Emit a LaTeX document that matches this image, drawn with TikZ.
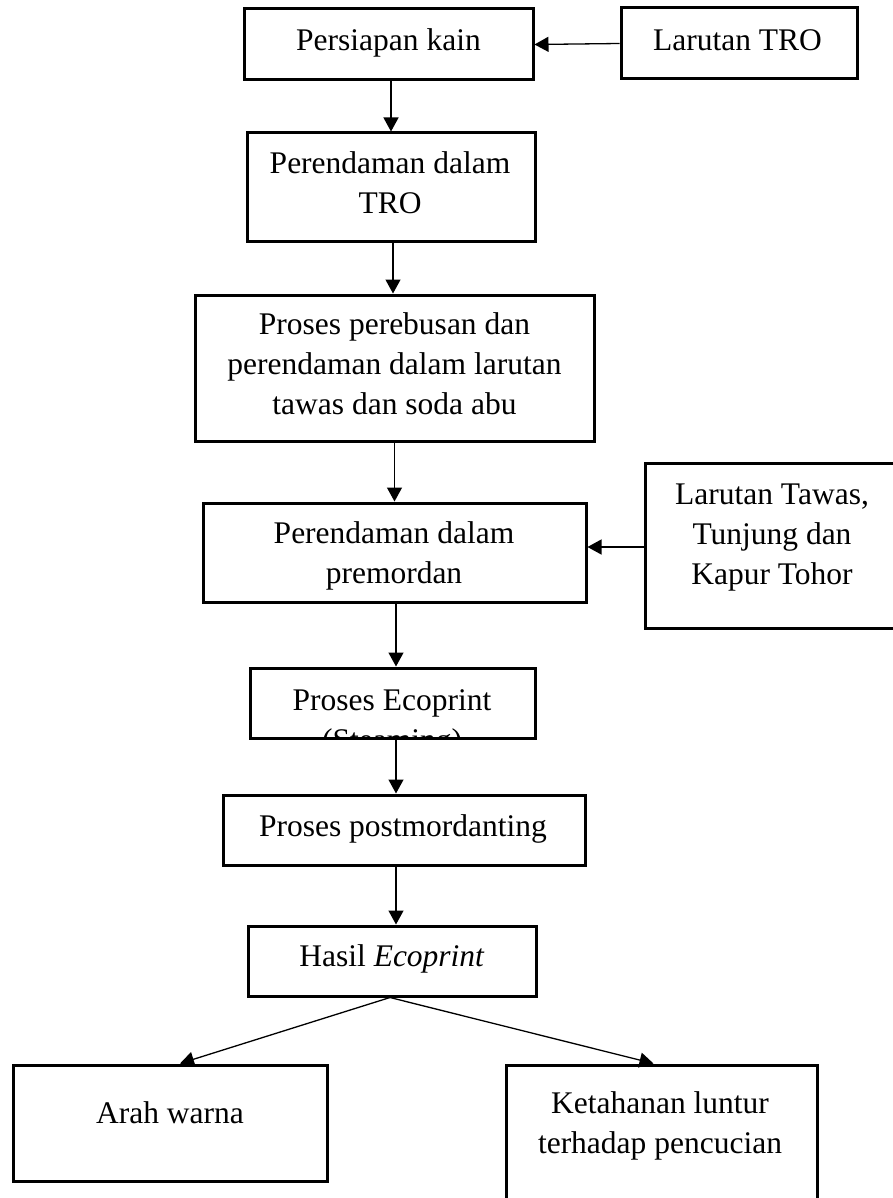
\documentclass[tikz,border=0pt]{standalone}
\usepackage{fontspec}
\setmainfont{Liberation Serif}
\usetikzlibrary{arrows.meta,calc}
\begin{document}
\begin{tikzpicture}[x=1pt,y=-1pt,
  box/.style={draw=black, line width=3pt, inner sep=0pt},
  lbl/.style={font=\fontsize{31.5}{40}\selectfont, align=center, anchor=base, inner sep=0pt},
  arr/.style={draw=black, line width=1.3pt, -{Triangle[length=14pt,width=15pt]}}]
\useasboundingbox (0,0) rectangle (893,1198);
% boxes
\node[box, minimum width=289pt, minimum height=71pt] (persiapan) at (388.5,44.5) {};
\node[lbl] (tpersiapan) at (388.5,51) {Persiapan kain};
\node[box, minimum width=236pt, minimum height=71pt] (tro) at (739,43.5) {};
\node[lbl] (ttro) at (737.5,51) {Larutan TRO};
\node[box, minimum width=288pt, minimum height=109pt] (rtro) at (391,187.5) {};
\node[lbl] (trtro) at (390,214) {Perendaman dalam\\TRO};
\node[box, minimum width=399pt, minimum height=146pt] (rebus) at (394.5,368) {};
\node[lbl] (trebus) at (394.5,414) {Proses perebusan dan\\perendaman dalam larutan\\tawas dan soda abu};
\node[box, minimum width=383pt, minimum height=99pt] (premordan) at (394.5,552.5) {};
\node[lbl] (tpremordan) at (394,583) {Perendaman dalam\\premordan};
\node[box, minimum width=270pt, minimum height=165pt] (tawas) at (780,545.5) {};
\node[lbl] (ttawas) at (772,584) {Larutan Tawas,\\Tunjung dan\\Kapur Tohor};
\node[box, minimum width=285pt, minimum height=70pt] (ecoprint) at (392.5,703) {};
\begin{scope}
  \clip ($(ecoprint.center)+(-141,-33.5)$) rectangle ($(ecoprint.center)+(141,33.5)$);
  \node[lbl] (tecoprint) at (392,750) {Proses Ecoprint\\(Steaming)};
\end{scope}
\node[box, minimum width=362pt, minimum height=70pt] (postmord) at (404,830) {};
\node[lbl] (tpostmord) at (403,836) {Proses postmordanting};
\node[box, minimum width=288pt, minimum height=70pt] (hasil) at (392,961) {};
\node[lbl] (thasil) at (392,966) {Hasil \textit{Ecoprint}};
\node[box, minimum width=314pt, minimum height=116pt] (arah) at (170,1123) {};
\node[lbl] (tarah) at (170,1123) {Arah warna};
\node[box, minimum width=311pt, minimum height=165pt] (tahan) at (661.5,1147.5) {};
\node[lbl] (ttahan) at (660,1153) {Ketahanan luntur\\terhadap pencucian};
% connectors
\draw[arr] (tro.west) -- (persiapan.east);
\draw[arr] (persiapan.south -| rtro.north) -- (rtro.north);
\draw[arr] ($(rtro.south)+(2,0)$) -- ($(rtro.south |- rebus.north)+(2,0)$);
\draw[arr] (rebus.south) -- (rebus.south |- premordan.north);
\draw[arr] ($(tawas.west)+(0,1.5)$) -- ($(tawas.west -| premordan.east)+(0,1.5)$);
\draw[arr] ($(premordan.south)+(1.5,0)$) -- ($(premordan.south |- ecoprint.north)+(1.5,0)$);
\draw[arr] ($(ecoprint.south)+(3.5,0)$) -- ($(ecoprint.south |- postmord.north)+(3.5,0)$);
\draw[arr] ($(hasil.north |- postmord.south)+(4,0)$) -- ($(hasil.north)+(4,0)$);
\draw[arr] ($(hasil.south)+(-2,0)$) -- ($(arah.north)+(10,0)$);
\draw[arr] ($(hasil.south)+(-2,0)$) -- ($(tahan.north)+(-8,0)$);
\end{tikzpicture}
\end{document}
